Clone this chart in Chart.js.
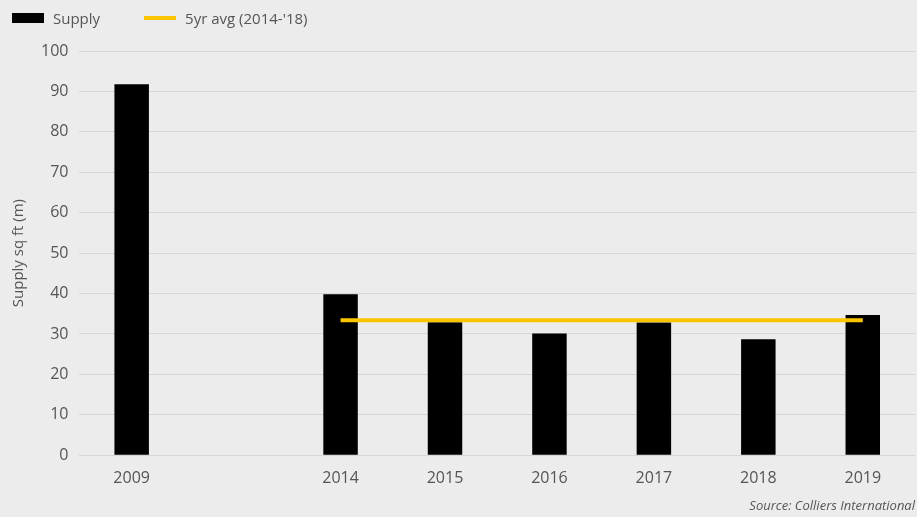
<!DOCTYPE html>
<html lang="en">
  <head>
    <meta charset="UTF-8" />
    <title>Supply sq ft (m)</title>
    <script src="https://cdn.jsdelivr.net/npm/chart.js"></script>
    <style>
      body {
        margin: 0;
        background: #ececec;
        font-family: "Open Sans", sans-serif;
      }
      .wrap {
        position: relative;
        width: 917px;
        height: 517px;
      }
      #legend {
        position: absolute;
        left: 12px;
        top: 8px;
        display: flex;
        align-items: center;
        font-size: 15px;
        color: #555;
      }
      .item {
        display: flex;
        align-items: center;
        margin-right: 44px;
      }
      .swatch {
        width: 32px;
        margin-right: 9px;
      }
    </style>
  </head>
  <body>
    <div class="wrap">
      <div id="legend"></div>
      <canvas id="myChart" width="917" height="517"></canvas>
    </div>

    <script>
      const categories = ["2009", "", "2014", "2015", "2016", "2017", "2018", "2019"];
      const supply = [91.8, null, 39.8, 32.9, 30.1, 32.8, 28.7, 34.7];
      const avg5yr = [null, null, 33.4, 33.4, 33.4, 33.4, 33.4, 33.4];
      const yTicks = [0, 10, 20, 30, 40, 50, 60, 70, 80, 90, 100];

      const textColor = "#555";

      const config = {
        type: "bar",
        data: {
          labels: categories,
          datasets: [
            {
              type: "bar",
              label: "Supply",
              data: supply,
              backgroundColor: "#000",
              barPercentage: 0.33,
              categoryPercentage: 1,
              order: 1,
            },
            {
              type: "line",
              label: "5yr avg (2014-'18)",
              data: avg5yr,
              borderColor: "#fcc500",
              backgroundColor: "#fcc500",
              borderWidth: 4,
              pointRadius: 0,
              spanGaps: false,
              order: 0,
            },
          ],
        },
        options: {
          responsive: false,
          animation: false,
          layout: {
            padding: { top: 51, right: 2, left: 10, bottom: 1 },
          },
          plugins: {
            legend: { display: false },
            tooltip: { enabled: false },
            subtitle: {
              display: true,
              text: "Source: Colliers International",
              position: "bottom",
              align: "end",
              color: textColor,
              font: { family: "'Open Sans', sans-serif", size: 13, style: "italic" },
              padding: { top: 4, bottom: 2 },
            },
          },
          scales: {
            x: {
              grid: { display: false },
              border: { display: false },
              ticks: {
                color: textColor,
                padding: 6,
                font: { family: "'Open Sans', sans-serif", size: 16 },
              },
            },
            y: {
              min: 0,
              max: 100,
              afterBuildTicks: (axis) => {
                axis.ticks = yTicks.map((v) => ({ value: v }));
              },
              grid: { color: "#d6d6d6", lineWidth: 1, drawTicks: false },
              border: { display: false },
              ticks: {
                color: textColor,
                padding: 11,
                font: { family: "'Open Sans', sans-serif", size: 16 },
              },
              title: {
                display: true,
                text: "Supply sq ft (m)",
                color: textColor,
                font: { family: "'Open Sans', sans-serif", size: 15 },
                padding: { top: 0, bottom: 2 },
              },
            },
          },
        },
      };

      const chart = new Chart(document.getElementById("myChart"), config);

      // legend built from the datasets
      const legend = document.getElementById("legend");
      chart.data.datasets.forEach((ds) => {
        const item = document.createElement("div");
        item.className = "item";
        const sw = document.createElement("span");
        sw.className = "swatch";
        sw.style.background = ds.backgroundColor;
        sw.style.height = ds.type === "line" ? "4px" : "10px";
        const txt = document.createElement("span");
        txt.textContent = ds.label;
        item.appendChild(sw);
        item.appendChild(txt);
        legend.appendChild(item);
      });
    </script>
  </body>
</html>
